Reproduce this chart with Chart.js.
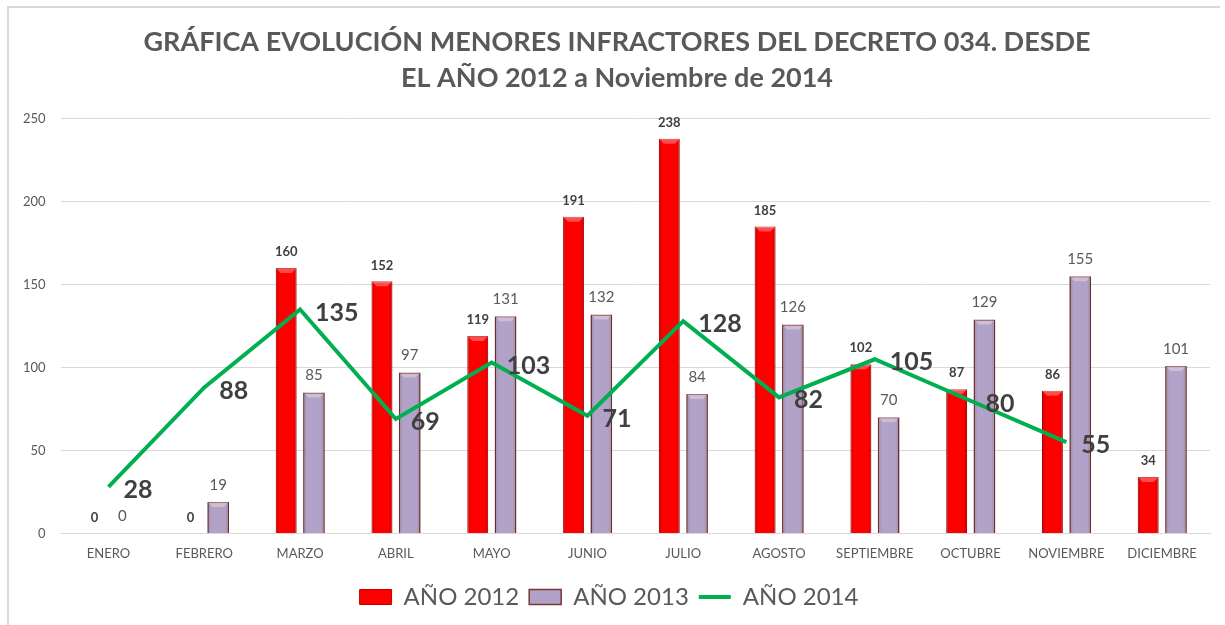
<!DOCTYPE html>
<html>
<head>
<meta charset="utf-8">
<script src="https://cdn.jsdelivr.net/npm/chart.js@4.4.1/dist/chart.umd.min.js"></script>
<style>
  html, body { margin: 0; padding: 0; background: #fff; }
  #wrap { position: relative; width: 1225px; height: 625px; overflow: hidden; }
  #frame { position: absolute; left: 7px; top: 6px; width: 1211px; height: 700px;
           border-top: 2px solid #d9d9d9; border-left: 2px solid #d9d9d9; pointer-events: none; }
</style>
</head>
<body>
<div id="wrap">
  <canvas id="chart" width="1225" height="625"></canvas>
  <div id="frame"></div>
</div>
<script>
const months = ["ENERO", "FEBRERO", "MARZO", "ABRIL", "MAYO", "JUNIO", "JULIO",
  "AGOSTO", "SEPTIEMBRE", "OCTUBRE", "NOVIEMBRE", "DICIEMBRE"];
const values2012 = [0, 0, 160, 152, 119, 191, 238, 185, 102, 87, 86, 34];
const values2013 = [0, 19, 85, 97, 131, 132, 84, 126, 70, 129, 155, 101];
const values2014 = [28, 88, 135, 69, 103, 71, 128, 82, 105, 80, 55, null];
const yTicks = [0, 50, 100, 150, 200, 250];

const FONT = "Lato, 'Liberation Sans', sans-serif";

// title sits a little right of the canvas centre in the original
const titleShift = {
  id: "titleShift",
  afterLayout(chart) {
    if (chart.titleBlock) {
      chart.titleBlock.left += 8;
      chart.titleBlock.right += 8;
    }
  }
};

// bevel look of the Excel bars
const bevelPlugin = {
  id: "bevel",
  afterDatasetDraw(chart, args) {
    const meta = args.meta;
    if (meta.type !== "bar") return;
    const ctx = chart.ctx;
    meta.data.forEach((bar) => {
      const w = bar.width;
      const h = bar.base - bar.y;
      if (h < 2) return;
      const left = bar.x - w / 2;
      ctx.save();
      const g = ctx.createLinearGradient(left, 0, left + w, 0);
      g.addColorStop(0, "rgba(0,0,0,0.18)");
      g.addColorStop(0.18, "rgba(0,0,0,0)");
      g.addColorStop(0.82, "rgba(0,0,0,0)");
      g.addColorStop(1, "rgba(0,0,0,0.18)");
      ctx.fillStyle = g;
      ctx.fillRect(left, bar.y, w, h);
      const b = Math.min(5, h / 2);
      ctx.fillStyle = "rgba(255,255,255,0.3)";
      ctx.beginPath();
      ctx.moveTo(left, bar.y);
      ctx.lineTo(left + w, bar.y);
      ctx.lineTo(left + w - b, bar.y + b);
      ctx.lineTo(left + b, bar.y + b);
      ctx.closePath();
      ctx.fill();
      ctx.restore();
    });
  }
};

// value labels
const labelPlugin = {
  id: "valueLabels",
  afterDatasetsDraw(chart) {
    const ctx = chart.ctx;
    ctx.save();
    chart.data.datasets.forEach((ds, i) => {
      const meta = chart.getDatasetMeta(i);
      meta.data.forEach((el, j) => {
        const v = ds.data[j];
        if (v === null || v === undefined) return;
        if (i === 0) {
          ctx.font = "bold 13px " + FONT;
          ctx.fillStyle = "#404040";
          ctx.textAlign = "center";
          ctx.textBaseline = "middle";
          ctx.fillText(v, el.x, el.y - 16);
        } else if (i === 1) {
          ctx.font = "15px " + FONT;
          ctx.fillStyle = "#595959";
          ctx.textAlign = "center";
          ctx.textBaseline = "middle";
          ctx.fillText(v, el.x, el.y - 17);
        } else {
          ctx.font = "bold 25px " + FONT;
          ctx.fillStyle = "#404040";
          ctx.textAlign = "left";
          ctx.textBaseline = "middle";
          ctx.fillText(v, el.x + 15, el.y + 3);
        }
      });
    });
    ctx.restore();
  }
};

new Chart(document.getElementById("chart"), {
  type: "bar",
  data: {
    labels: months,
    datasets: [
      {
        label: "AÑO 2012",
        data: values2012,
        backgroundColor: "#ff0000",
        borderColor: "#c00000",
        borderWidth: 1,
        barPercentage: 0.75,
        categoryPercentage: 0.58,
        order: 1
      },
      {
        label: "AÑO 2013",
        data: values2013,
        backgroundColor: "#b3a2c7",
        borderColor: "#7f3535",
        borderWidth: 1.5,
        barPercentage: 0.78,
        categoryPercentage: 0.58,
        order: 1
      },
      {
        type: "line",
        label: "AÑO 2014",
        data: values2014,
        borderColor: "#00b050",
        backgroundColor: "#00b050",
        borderWidth: 4,
        pointRadius: 0,
        tension: 0,
        order: 0
      }
    ]
  },
  options: {
    responsive: false,
    animation: false,
    layout: { padding: { left: 8, right: 15, top: 8, bottom: 6 } },
    plugins: {
      title: {
        display: true,
        text: ["GRÁFICA EVOLUCIÓN MENORES INFRACTORES DEL DECRETO 034. DESDE",
          "EL AÑO 2012 a Noviembre de 2014"],
        color: "#595959",
        font: { family: FONT, size: 27, weight: "bold", lineHeight: 1.33 },
        padding: { top: 16, bottom: 23 }
      },
      legend: {
        position: "bottom",
        labels: {
          color: "#595959",
          font: { family: FONT, size: 24 },
          usePointStyle: true,
          pointStyleWidth: 32,
          boxHeight: 15,
          padding: 10,
          sort: (a, b) => a.datasetIndex - b.datasetIndex,
          generateLabels(chart) {
            const items = Chart.defaults.plugins.legend.labels.generateLabels(chart);
            items.forEach((it) => {
              it.pointStyle = it.datasetIndex === 2 ? "line" : "rect";
              if (it.datasetIndex === 2) it.lineWidth = 4;
            });
            return items;
          }
        }
      },
      tooltip: { enabled: false }
    },
    scales: {
      x: {
        grid: { display: false, drawTicks: false },
        border: { color: "#d9d9d9" },
        ticks: { color: "#595959", font: { family: FONT, size: 13 }, padding: 13, maxRotation: 0 }
      },
      y: {
        min: 0,
        max: 250,
        afterBuildTicks(axis) {
          axis.ticks = yTicks.map((v) => ({ value: v }));
        },
        grid: { color: "#d9d9d9", drawTicks: false },
        border: { display: false },
        ticks: { color: "#595959", font: { family: FONT, size: 13 }, padding: 15 }
      }
    }
  },
  plugins: [titleShift, bevelPlugin, labelPlugin]
});
</script>
</body>
</html>
